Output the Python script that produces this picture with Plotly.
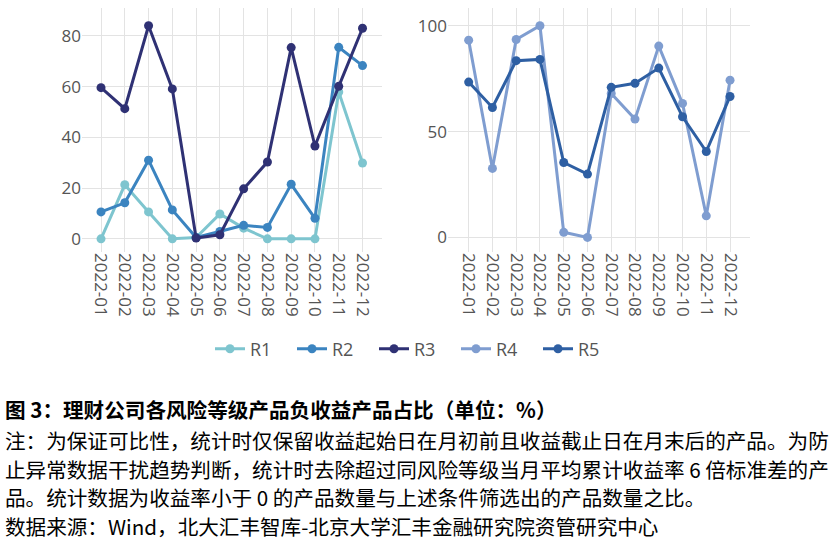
import plotly.graph_objects as go

months = ["2022-01", "2022-02", "2022-03", "2022-04", "2022-05", "2022-06",
          "2022-07", "2022-08", "2022-09", "2022-10", "2022-11", "2022-12"]

r1 = [0.0, 21.3, 10.6, 0.0, 0.5, 9.8, 4.2, 0.0, 0.0, 0.0, 57.9, 29.9]
r2 = [10.6, 14.2, 31.0, 11.4, 0.5, 2.9, 5.3, 4.5, 21.5, 8.1, 75.5, 68.3]
r3 = [59.6, 51.3, 84.0, 59.1, 0.3, 1.6, 19.7, 30.3, 75.4, 36.6, 60.1, 83.0]
r4 = [93.2, 32.6, 93.5, 100.0, 2.4, 0.0, 68.0, 55.9, 90.4, 63.3, 10.2, 74.3]
r5 = [73.4, 61.4, 83.5, 84.1, 35.4, 29.9, 70.9, 72.8, 80.0, 57.0, 40.6, 66.6]

left_series = [("R1", r1, "#7ec5cf"), ("R2", r2, "#3b84c0"), ("R3", r3, "#2f3174")]
right_series = [("R4", r4, "#7f9dd0"), ("R5", r5, "#2e5fa3")]

title = "<b>图 3：理财公司各风险等级产品负收益产品占比（单位：%）</b>"
notes = [
    "注：为保证可比性，统计时仅保留收益起始日在月初前且收益截止日在月末后的产品。为防",
    "止异常数据干扰趋势判断，统计时去除超过同风险等级当月平均累计收益率 6 倍标准差的产",
    "品。统计数据为收益率小于 0 的产品数量与上述条件筛选出的产品数量之比。",
    "数据来源：Wind，北大汇丰智库-北京大学汇丰金融研究院资管研究中心",
]

fig = go.Figure()
for name, vals, col in left_series:
    fig.add_trace(go.Scatter(x=months, y=vals, name=name, mode="lines+markers",
                             line=dict(color=col, width=3), marker=dict(color=col, size=9),
                             xaxis="x", yaxis="y"))
for name, vals, col in right_series:
    fig.add_trace(go.Scatter(x=months, y=vals, name=name, mode="lines+markers",
                             line=dict(color=col, width=3), marker=dict(color=col, size=9),
                             xaxis="x2", yaxis="y2"))

W, H = 830, 544
def px(v):
    return v / W
def py(v):
    return 1 - v / H

tickfont = dict(family="Open Sans", size=17, color="#555555")
grid = "#e3e3e3"

fig.update_layout(
    width=W, height=H,
    margin=dict(l=0, r=0, t=0, b=0),
    paper_bgcolor="white", plot_bgcolor="white",
    showlegend=True,
    legend=dict(orientation="h", x=0.5, xanchor="center", y=py(349), yanchor="middle",
                entrywidth=37, entrywidthmode="pixels",
                font=dict(family="Open Sans", size=18, color="#555555")),
    xaxis=dict(domain=[px(82), px(382)], type="category", range=[-0.8, 11.82],
               tickangle=90, tickfont=tickfont, showgrid=True, gridcolor=grid,
               zeroline=False, showline=False, anchor="y"),
    yaxis=dict(domain=[py(252), py(8)], range=[-5.2, 91], tickvals=[0, 20, 40, 60, 80],
               tickfont=tickfont, showgrid=True, gridcolor=grid, zeroline=False,
               showline=False, anchor="x"),
    xaxis2=dict(domain=[px(448), px(750)], type="category", range=[-0.87, 11.84],
                tickangle=90, tickfont=tickfont, showgrid=True, gridcolor=grid,
                zeroline=False, showline=False, anchor="y2"),
    yaxis2=dict(domain=[py(252), py(8)], range=[-6.9, 108.4], tickvals=[0, 50, 100],
                tickfont=tickfont, showgrid=True, gridcolor=grid, zeroline=False,
                showline=False, anchor="x2"),
)

cjk = "Noto Sans CJK SC"
fig.add_annotation(text=title, xref="paper", yref="paper", x=px(3), y=py(409),
                   xanchor="left", yanchor="middle", showarrow=False,
                   font=dict(family=cjk, size=20.6, color="#000000"))
for i, line in enumerate(notes):
    yc = [440, 468.5, 497, 525.5][i]
    fig.add_annotation(text=line, xref="paper", yref="paper", x=px(3), y=py(yc),
                       xanchor="left", yanchor="middle", showarrow=False,
                       font=dict(family=cjk, size=20.6, color="#000000"))

fig.write_html("out.html")
